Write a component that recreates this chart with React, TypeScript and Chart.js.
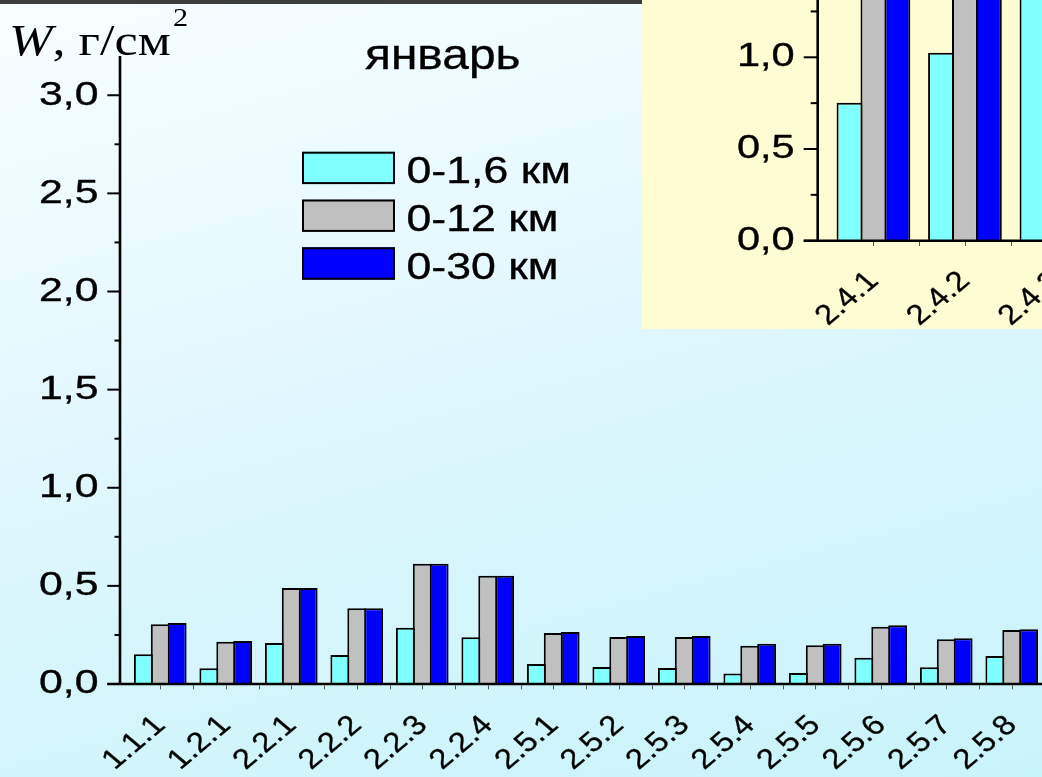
import React, { useEffect, useRef } from "react";
import { Chart, registerables } from "chart.js";

Chart.register(...registerables);

// ---------------- data ----------------
const categories = [
  "1.1.1", "1.2.1", "2.2.1", "2.2.2", "2.2.3", "2.2.4", "2.5.1",
  "2.5.2", "2.5.3", "2.5.4", "2.5.5", "2.5.6", "2.5.7", "2.5.8",
];
const layer0_1_6 = [0.151, 0.08, 0.209, 0.148, 0.287, 0.238, 0.102, 0.087, 0.082, 0.053, 0.056, 0.134, 0.085, 0.143];
const layer0_12 = [0.304, 0.215, 0.489, 0.386, 0.613, 0.552, 0.26, 0.239, 0.239, 0.195, 0.197, 0.292, 0.228, 0.275];
const layer0_30 = [0.311, 0.219, 0.489, 0.386, 0.613, 0.552, 0.265, 0.245, 0.245, 0.205, 0.205, 0.299, 0.233, 0.279];

const insetCategories = ["2.4.1", "2.4.2", "2.4.3"];
const inset0_1_6 = [0.752, 1.025, 1.6];
const inset0_12 = [2.0, 2.3, 2.7];
const inset0_30 = [2.05, 2.35, 2.75];

const seriesNames = ["0-1,6 км", "0-12 км", "0-30 км"];
const seriesColors = ["#80FFFF", "#C0C0C0", "#0000FF"];

const monthTitle = "январь";
const yTitleVar = "W";
const yTitleUnit = ", г/см";
const yTitleSup = "2";

const SANS = '"Liberation Sans", Arial, sans-serif';
const SERIF = '"Liberation Serif", "Times New Roman", serif';

const fmt = (v: number) => v.toFixed(1).replace(".", ",");

type AxisCfg = {
  gap: number;
  axisWidth: number;
  majorLen: number;
  minorLen: number;
  majorStep: number;
  yMax: number;
  labelRight: number;
  yFontPx: number;
  xFontPx: number;
  sx: number;
  xSx: number;
  xDx: number;
  xDy: number;
  xTickLen: number;
};

const heavyText = (ctx: CanvasRenderingContext2D, text: string, x: number, y: number, w = 0.35) => {
  ctx.fillText(text, x, y);
  ctx.save();
  ctx.strokeStyle = ctx.fillStyle as string;
  ctx.lineWidth = w;
  ctx.lineJoin = "round";
  ctx.strokeText(text, x, y);
  ctx.restore();
};

const drawAxes = (chart: any, cfg: AxisCfg) => {
  const ctx: CanvasRenderingContext2D = chart.ctx;
  const area = chart.chartArea;
  const xs = chart.scales.x;
  const ys = chart.scales.y;
  const ax = area.left - cfg.gap;
  const ay = ys.getPixelForValue(0);
  const yTop = ys.getPixelForValue(cfg.yMax);
  ctx.save();
  ctx.strokeStyle = "#000";
  ctx.fillStyle = "#000";
  ctx.lineWidth = cfg.axisWidth;
  ctx.beginPath();
  ctx.moveTo(ax, yTop);
  ctx.lineTo(ax, ay + cfg.axisWidth / 2);
  ctx.moveTo(ax - cfg.majorLen, ay);
  ctx.lineTo(chart.width, ay);
  ctx.stroke();

  // x small ticks at centres and boundaries
  ctx.strokeStyle = "#555";
  ctx.lineWidth = 1;
  ctx.beginPath();
  const n = chart.data.labels.length;
  for (let i = 0; i < n; i++) {
    const c = Math.round(xs.getPixelForValue(i)) + 0.5;
    const b = Math.round(xs.getPixelForValue(i + 0.5)) + 0.5;
    ctx.moveTo(c, ay + cfg.axisWidth / 2);
    ctx.lineTo(c, ay + cfg.axisWidth / 2 + cfg.xTickLen);
    ctx.moveTo(b, ay + cfg.axisWidth / 2);
    ctx.lineTo(b, ay + cfg.axisWidth / 2 + cfg.xTickLen);
  }
  ctx.stroke();

  // y ticks + labels
  ctx.strokeStyle = "#000";
  ctx.lineWidth = 2;
  ctx.font = `${cfg.yFontPx}px ${SANS}`;
  ctx.textAlign = "right";
  ctx.textBaseline = "middle";
  for (const t of ys.ticks) {
    const v = t.value;
    if (v > cfg.yMax + 1e-9) continue;
    const major = Math.abs(v / cfg.majorStep - Math.round(v / cfg.majorStep)) < 1e-6;
    const y = ys.getPixelForValue(v);
    ctx.beginPath();
    ctx.moveTo(ax - (major ? cfg.majorLen : cfg.minorLen), y);
    ctx.lineTo(ax, y);
    ctx.stroke();
    if (major) {
      ctx.save();
      ctx.translate(ax - cfg.labelRight, y);
      ctx.scale(cfg.sx, 1);
      heavyText(ctx, fmt(v), 0, 0);
      ctx.restore();
    }
  }

  // x rotated labels
  ctx.font = `${cfg.xFontPx}px ${SANS}`;
  ctx.textAlign = "right";
  ctx.textBaseline = "middle";
  for (let i = 0; i < n; i++) {
    const cx = xs.getPixelForValue(i);
    ctx.save();
    ctx.translate(cx + cfg.xDx, ay + cfg.xDy);
    ctx.scale(cfg.xSx, 1);
    ctx.rotate(-Math.PI / 4);
    heavyText(ctx, String(chart.data.labels[i]), 0, 0, 0.3);
    ctx.restore();
  }
  ctx.restore();
};

const originAxesPlugin = {
  id: "originAxes",
  afterDatasetsDraw(chart: any, _args: any, opts: any) {
    drawAxes(chart, opts.cfg as AxisCfg);
  },
};

const decorPlugin = {
  id: "decor",
  afterDraw(chart: any) {
    const ctx: CanvasRenderingContext2D = chart.ctx;
    ctx.save();
    ctx.fillStyle = "#000";
    ctx.textAlign = "left";
    ctx.textBaseline = "alphabetic";

    // y-axis title
    ctx.save();
    ctx.translate(9, 54.5);
    ctx.scale(1.16, 1);
    ctx.font = `italic 45px ${SERIF}`;
    ctx.fillText(yTitleVar, 0, 0);
    let x = ctx.measureText(yTitleVar).width;
    ctx.font = `45px ${SERIF}`;
    ctx.fillText(yTitleUnit, x, 0);
    x += ctx.measureText(yTitleUnit).width;
    ctx.font = `26px ${SERIF}`;
    ctx.fillText(yTitleSup, x + 2, -29);
    ctx.restore();

    // month title
    ctx.save();
    ctx.translate(365, 68.5);
    ctx.scale(1.14, 1);
    ctx.font = `42px ${SANS}`;
    heavyText(ctx, monthTitle, 0, 0);
    ctx.restore();

    // legend from datasets
    const ds = chart.data.datasets;
    for (let i = 0; i < ds.length; i++) {
      const top = 151.7 + i * 47.8;
      ctx.fillStyle = ds[i].backgroundColor;
      ctx.fillRect(302, top, 93, 32.4);
      ctx.strokeStyle = "#000";
      ctx.lineWidth = 2;
      ctx.strokeRect(303, top + 1, 91, 30.4);
      ctx.fillStyle = "#000";
      ctx.save();
      ctx.translate(406.5, top + 31.5);
      ctx.scale(1.24, 1);
      ctx.font = `36px ${SANS}`;
      heavyText(ctx, ds[i].label, 0, 0);
      ctx.restore();
    }
    ctx.restore();
  },
};

const makeDatasets = (series: number[][], cp: number, bp: number) =>
  series.map((data, i) => ({
    label: seriesNames[i],
    data,
    backgroundColor: seriesColors[i],
    borderColor: "#000000",
    borderWidth: 2,
    borderSkipped: "start",
    inflateAmount: 0,
    categoryPercentage: cp,
    barPercentage: bp,
  }));

const mainAxes: AxisCfg = {
  gap: 7.5, axisWidth: 2.6, majorLen: 12.7, minorLen: 5.5, majorStep: 0.5, yMax: 3.2,
  labelRight: 21.5, yFontPx: 34, xFontPx: 28, sx: 1.26, xSx: 1.18, xDx: 0, xDy: 37, xTickLen: 4,
};
const insetAxes: AxisCfg = {
  gap: 10, axisWidth: 2.6, majorLen: 14, minorLen: 7, majorStep: 0.5, yMax: 3.0,
  labelRight: 23, yFontPx: 33, xFontPx: 28, sx: 1.26, xSx: 1.18, xDx: 0, xDy: 36, xTickLen: 4,
};

const MAIN_W = 1060, MAIN_H = 777;
const INSET_W = 480, INSET_H = 662, INSET_OFF = 330;

export default function App() {
  const mainRef = useRef<HTMLCanvasElement>(null);
  const insetRef = useRef<HTMLCanvasElement>(null);

  useEffect(() => {
    const main = new Chart(mainRef.current as HTMLCanvasElement, {
      type: "bar",
      data: {
        labels: categories,
        datasets: makeDatasets([layer0_1_6, layer0_12, layer0_30], 0.774, 1.118) as any,
      },
      options: {
        animation: false,
        responsive: false,
        devicePixelRatio: 1,
        events: [],
        layout: { padding: { left: 0, top: 56, right: MAIN_W - 1044.5, bottom: 0 } },
        plugins: { legend: { display: false }, tooltip: { enabled: false }, originAxes: { cfg: mainAxes } } as any,
        scales: {
          x: {
            type: "category",
            ticks: { display: false },
            grid: { display: false },
            border: { display: false },
            afterFit: (s: any) => { s.height = MAIN_H - 684; },
          },
          y: {
            type: "linear",
            min: 0,
            max: 3.2,
            ticks: { display: false, stepSize: 0.25, includeBounds: false },
            grid: { display: false },
            border: { display: false },
            afterFit: (s: any) => { s.width = 127.5; },
          },
        },
      },
      plugins: [originAxesPlugin, decorPlugin],
    });

    const inset = new Chart(insetRef.current as HTMLCanvasElement, {
      type: "bar",
      data: {
        labels: insetCategories,
        datasets: makeDatasets([inset0_1_6, inset0_12, inset0_30], 0.784, 1.084) as any,
      },
      options: {
        animation: false,
        responsive: false,
        devicePixelRatio: 1,
        events: [],
        layout: { padding: { left: 0, top: 20.5, right: INSET_W - 460.2, bottom: 0 } },
        plugins: { legend: { display: false }, tooltip: { enabled: false }, originAxes: { cfg: insetAxes } } as any,
        scales: {
          x: {
            type: "category",
            ticks: { display: false },
            grid: { display: false },
            border: { display: false },
            afterFit: (s: any) => { s.height = INSET_H - (INSET_OFF + 240.7); },
          },
          y: {
            type: "linear",
            min: 0,
            max: 3.0,
            ticks: { display: false, stepSize: 0.25, includeBounds: false },
            grid: { display: false },
            border: { display: false },
            afterFit: (s: any) => { s.width = 185.7; },
          },
        },
      },
      plugins: [originAxesPlugin],
    });

    return () => {
      main.destroy();
      inset.destroy();
    };
  }, []);

  return (
    <div
      style={{
        position: "fixed",
        left: 0,
        top: 0,
        width: 1042,
        height: 777,
        overflow: "hidden",
        background: "linear-gradient(165deg, #f8feff 0%, #e9fafe 28%, #d7f6fc 62%, #c9f3fb 100%)",
      }}
    >
      <canvas
        ref={mainRef}
        width={MAIN_W}
        height={MAIN_H}
        style={{ position: "absolute", left: 0, top: 0, width: MAIN_W, height: MAIN_H }}
      />
      <div
        style={{
          position: "absolute",
          left: 642,
          top: 0,
          width: 400,
          height: 329,
          overflow: "hidden",
          background: "#fefcd3",
        }}
      >
        <canvas
          ref={insetRef}
          width={INSET_W}
          height={INSET_H}
          style={{ position: "absolute", left: 0, top: -INSET_OFF, width: INSET_W, height: INSET_H }}
        />
      </div>
      <div style={{ position: "absolute", left: 0, top: 0, width: 642, height: 4, background: "#3d3d3d" }} />
    </div>
  );
}
